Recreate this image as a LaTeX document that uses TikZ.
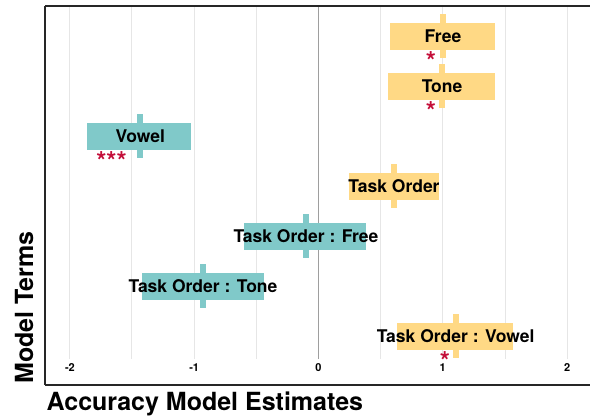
\documentclass[tikz,border=0pt]{standalone}
\usepackage{fontspec}
\setmainfont{TeX Gyre Heros}
\definecolor{yel}{HTML}{FFD985}
\definecolor{teal}{HTML}{80C9C9}
\definecolor{starred}{HTML}{C40F3A}
\definecolor{gridc}{HTML}{E6E6E6}
\tikzset{
  gridline/.style={draw=gridc, line width=1pt},
  zeroline/.style={draw=black!38, line width=1.6pt},
  axisline/.style={draw=black!85, line width=1.1pt},
  cibox/.style={fill=#1, draw=none},
  estbar/.style={fill=#1, draw=none},
  termlabel/.style={font=\bfseries\fontsize{17.5}{17.5}\selectfont, anchor=base, inner sep=0pt},
  sig/.style={font=\bfseries\fontsize{26}{26}\selectfont, text=starred, anchor=base, inner sep=0pt},
  ticklab/.style={font=\bfseries\fontsize{11}{11}\selectfont, anchor=base, inner sep=0pt},
  axtitle/.style={font=\bfseries\fontsize{25}{25}\selectfont, inner sep=0pt},
}
\begin{document}
\begin{tikzpicture}[x=1pt,y=-1pt]
\useasboundingbox (0,0) rectangle (590,416);
% grid
\foreach \gx in {69.9,131.9,194.2,256.3,380.7,442.8,505.0,567.1}
  \draw[gridline] (\gx,6) -- (\gx,359);
\draw[zeroline] (318.5,6) -- (318.5,359);
% axes
\draw[axisline] (45,6) -- (590,6);
\draw[axisline] (45,385) -- (590,385);
\draw[axisline] (45,6) -- (45,385);
% tick labels
\node[ticklab] (tm2) at (69.9,371) {-2};
\node[ticklab] (tm1) at (194.2,371) {-1};
\node[ticklab] (t0) at (318.5,371) {0};
\node[ticklab] (t1) at (442.8,371) {1};
\node[ticklab] (t2) at (567.1,371) {2};
% rows: name, estimate x, lo, hi, y, colour, label
\newcommand{\termrow}[7]{%
  \fill[cibox=#6] (#3,#5-13.5) rectangle (#4,#5+13.5);
  \fill[estbar=#6] (#2-3,#5-22) rectangle (#2+3,#5+22);
  \node[termlabel] (#1) at (#2,#5+6.3) {#7};
}
\termrow{free}{443}{390}{495}{36}{yel}{Free}
\termrow{tone}{442}{388}{495}{86}{yel}{Tone}
\termrow{vowel}{140.3}{87.3}{191}{136}{teal}{Vowel}
\termrow{order}{394}{349}{438.7}{186}{yel}{Task Order}
\termrow{ofree}{306}{244.3}{366}{236}{teal}{Task Order : Free}
\termrow{otone}{203}{141.7}{264}{286}{teal}{Task Order : Tone}
\termrow{ovowel}{455.7}{396.7}{513.3}{336}{yel}{Task Order : Vowel}
% significance stars
\node[sig] (sfree) at (431,70.5) {*};
\node[sig] (stone) at (431,120.5) {*};
\node[sig] (svowel) at (111.5,170.5) {***};
\node[sig] (sovowel) at (445,370.5) {*};
% axis titles
\node[axtitle, anchor=base west] (xtitle) at (46.5,410) {Accuracy Model Estimates};
\node[axtitle, anchor=base west, rotate=90] (ytitle) at (33,384) {Model Terms};
\end{tikzpicture}
\end{document}
